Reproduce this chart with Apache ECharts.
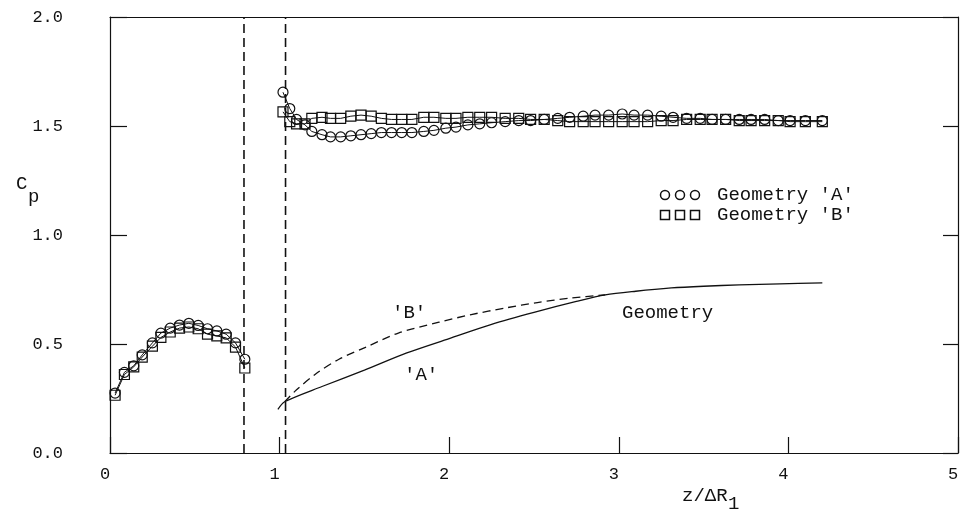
<!DOCTYPE html>
<html>
<head>
<meta charset="utf-8">
<script src="https://cdn.jsdelivr.net/npm/echarts@6/dist/echarts.min.js"></script>
<style>
  html, body { margin: 0; padding: 0; background: #fff; }
  #chart { width: 962px; height: 513px; }
</style>
</head>
<body>
<div id="chart"></div>
<script>
// 左侧一段 (z/ΔR1 < 0.8)
const leftX = [0.03, 0.085, 0.14, 0.19, 0.25, 0.30, 0.355, 0.41, 0.465, 0.52, 0.575, 0.63, 0.685, 0.74, 0.795];
const leftA = [0.275, 0.37, 0.40, 0.45, 0.505, 0.55, 0.573, 0.587, 0.595, 0.585, 0.57, 0.56, 0.545, 0.505, 0.43];
const leftB = [0.265, 0.36, 0.395, 0.44, 0.49, 0.53, 0.555, 0.573, 0.578, 0.57, 0.545, 0.537, 0.528, 0.486, 0.39];

// 右侧一段 (z/ΔR1 > 1.03)
const rightX = [1.02, 1.06, 1.10, 1.15, 1.19, 1.25, 1.30, 1.36, 1.42, 1.48, 1.54, 1.60, 1.66, 1.72, 1.78,
  1.85, 1.91, 1.98, 2.04, 2.11, 2.18, 2.25, 2.33, 2.41, 2.48, 2.56, 2.64, 2.71, 2.79, 2.86, 2.94,
  3.02, 3.09, 3.17, 3.25, 3.32, 3.40, 3.48, 3.55, 3.63, 3.71, 3.78, 3.86, 3.94, 4.01, 4.10, 4.20];
const rightA = [1.655, 1.58, 1.53, 1.505, 1.475, 1.46, 1.45, 1.45, 1.455, 1.46, 1.465, 1.47, 1.47, 1.47, 1.47,
  1.475, 1.48, 1.49, 1.495, 1.505, 1.51, 1.515, 1.52, 1.525, 1.525, 1.53, 1.535, 1.54, 1.545, 1.55, 1.55,
  1.555, 1.55, 1.55, 1.545, 1.54, 1.535, 1.535, 1.53, 1.53, 1.53, 1.53, 1.53, 1.525, 1.525, 1.525, 1.525];
const rightB = [1.565, 1.52, 1.51, 1.51, 1.535, 1.54, 1.535, 1.535, 1.545, 1.55, 1.545, 1.535, 1.53, 1.53, 1.53,
  1.54, 1.54, 1.535, 1.535, 1.54, 1.54, 1.54, 1.535, 1.535, 1.53, 1.53, 1.525, 1.52, 1.52, 1.52, 1.52,
  1.52, 1.52, 1.52, 1.525, 1.525, 1.53, 1.53, 1.53, 1.53, 1.525, 1.525, 1.525, 1.525, 1.52, 1.52, 1.52];

// 几何形状曲线
const geomAX = [0.99, 1.03, 1.25, 1.5, 1.75, 2.0, 2.25, 2.5, 2.75, 2.92, 3.1, 3.31, 3.5, 3.71, 3.95, 4.2];
const geomAY = [0.2, 0.235, 0.305, 0.38, 0.459, 0.525, 0.59, 0.645, 0.695, 0.725, 0.742, 0.757, 0.765, 0.771, 0.776, 0.78];
const geomBX = [1.03, 1.1, 1.22, 1.35, 1.51, 1.7, 1.94, 2.13, 2.33, 2.52, 2.72, 2.92];
const geomBY = [0.235, 0.29, 0.367, 0.43, 0.486, 0.55, 0.60, 0.635, 0.665, 0.69, 0.711, 0.725];

// 分隔虚线位置
const dividers = [0.79, 1.035];

const yTicks = [0, 0.5, 1.0, 1.5, 2.0];

const INK = '#111';
const FONT = '"Liberation Mono", "DejaVu Sans Mono", monospace';

const zip = (xs, ys) => xs.map((x, i) => [x, ys[i]]);

function markerSeries(name, xs, ys, symbol) {
  return {
    name: name,
    type: 'line',
    data: zip(xs, ys),
    symbol: symbol,
    symbolSize: 10,
    lineStyle: { color: INK, width: 1 },
    itemStyle: { color: 'rgba(0,0,0,0)', borderColor: INK, borderWidth: 1.2 },
    z: 3,
    animation: false
  };
}

const dividerSeries = dividers.map((d) => ({
  type: 'line',
  data: [[d, 0], [d, 2]],
  symbol: 'none',
  lineStyle: { color: INK, width: 1.6, type: [9, 5] },
  animation: false
}));

const chart = echarts.init(document.getElementById('chart'));

const option = {
  backgroundColor: '#fff',
  animation: false,
  grid: { left: 110, right: 4, top: 17, bottom: 60 },
  xAxis: [
    {
      type: 'value', min: 0, max: 5, interval: 1,
      axisLine: { onZero: false, lineStyle: { color: INK, width: 1.2 } },
      axisTick: { inside: true, length: 16, lineStyle: { color: INK, width: 1.2 } },
      axisLabel: { color: INK, fontFamily: FONT, fontSize: 17, margin: 13, padding: [0, 10, 0, 0] },
      splitLine: { show: false }
    },
    {
      type: 'value', min: 0, max: 5, position: 'top',
      axisLine: { show: true, onZero: false, lineStyle: { color: INK, width: 1.2 } },
      axisTick: { show: false }, axisLabel: { show: false }, splitLine: { show: false }
    }
  ],
  yAxis: [
    {
      type: 'value', min: 0, max: 2, interval: 0.5,
      axisLine: { show: true, onZero: false, lineStyle: { color: INK, width: 1.2 } },
      axisTick: { inside: true, length: 17, lineStyle: { color: INK, width: 1.2 } },
      axisLabel: {
        color: INK, fontFamily: FONT, fontSize: 17, margin: 47,
        formatter: (v) => yTicks.includes(v) ? v.toFixed(1) : ''
      },
      splitLine: { show: false }
    },
    {
      type: 'value', min: 0, max: 2, interval: 0.5, position: 'right',
      axisLine: { show: true, onZero: false, lineStyle: { color: INK, width: 1.2 } },
      axisTick: { inside: true, length: 15, lineStyle: { color: INK, width: 1.2 } },
      axisLabel: { show: false }, splitLine: { show: false }
    }
  ],
  series: [
    ...dividerSeries,
    markerSeries("Geometry 'A'", leftX, leftA, 'circle'),
    markerSeries("Geometry 'B'", leftX, leftB, 'rect'),
    markerSeries("Geometry 'A'", rightX, rightA, 'circle'),
    markerSeries("Geometry 'B'", rightX, rightB, 'rect'),
    {
      type: 'line', data: zip(geomAX, geomAY), symbol: 'none', smooth: 0.3,
      lineStyle: { color: INK, width: 1.3 }, animation: false
    },
    {
      type: 'line', data: zip(geomBX, geomBY), symbol: 'none', smooth: 0.3,
      lineStyle: { color: INK, width: 1.3, type: [8, 5] }, animation: false
    }
  ],
  graphic: [
    // 图例
    ...[665, 680, 695].map((cx) => ({
      type: 'circle', shape: { cx: cx, cy: 195, r: 4.5 },
      style: { fill: 'none', stroke: INK, lineWidth: 1.5 }
    })),
    ...[665, 680, 695].map((cx) => ({
      type: 'rect', shape: { x: cx - 4.5, y: 210.5, width: 9, height: 9 },
      style: { fill: 'none', stroke: INK, lineWidth: 1.5 }
    })),
    {
      type: 'text', left: 717, top: 185,
      style: { text: "Geometry 'A'", font: '19px ' + FONT, fill: INK }
    },
    {
      type: 'text', left: 717, top: 205,
      style: { text: "Geometry 'B'", font: '19px ' + FONT, fill: INK }
    },
    // 曲线标注
    {
      type: 'text', left: 392, top: 303,
      style: { text: "'B'", font: '19px ' + FONT, fill: INK }
    },
    {
      type: 'text', left: 404, top: 365,
      style: { text: "'A'", font: '19px ' + FONT, fill: INK }
    },
    {
      type: 'text', left: 622, top: 303,
      style: { text: 'Geometry', font: '19px ' + FONT, fill: INK }
    },
    // 坐标轴名称
    {
      type: 'text', left: 16, top: 174,
      style: { text: 'C', font: '19px ' + FONT, fill: INK }
    },
    {
      type: 'text', left: 28, top: 187,
      style: { text: 'p', font: '19px ' + FONT, fill: INK }
    },
    {
      type: 'text', left: 682, top: 486,
      style: { text: 'z/ΔR', font: '19px ' + FONT, fill: INK }
    },
    {
      type: 'text', left: 728, top: 494,
      style: { text: '1', font: '19px ' + FONT, fill: INK }
    }
  ]
};

chart.setOption(option);
</script>
</body>
</html>
